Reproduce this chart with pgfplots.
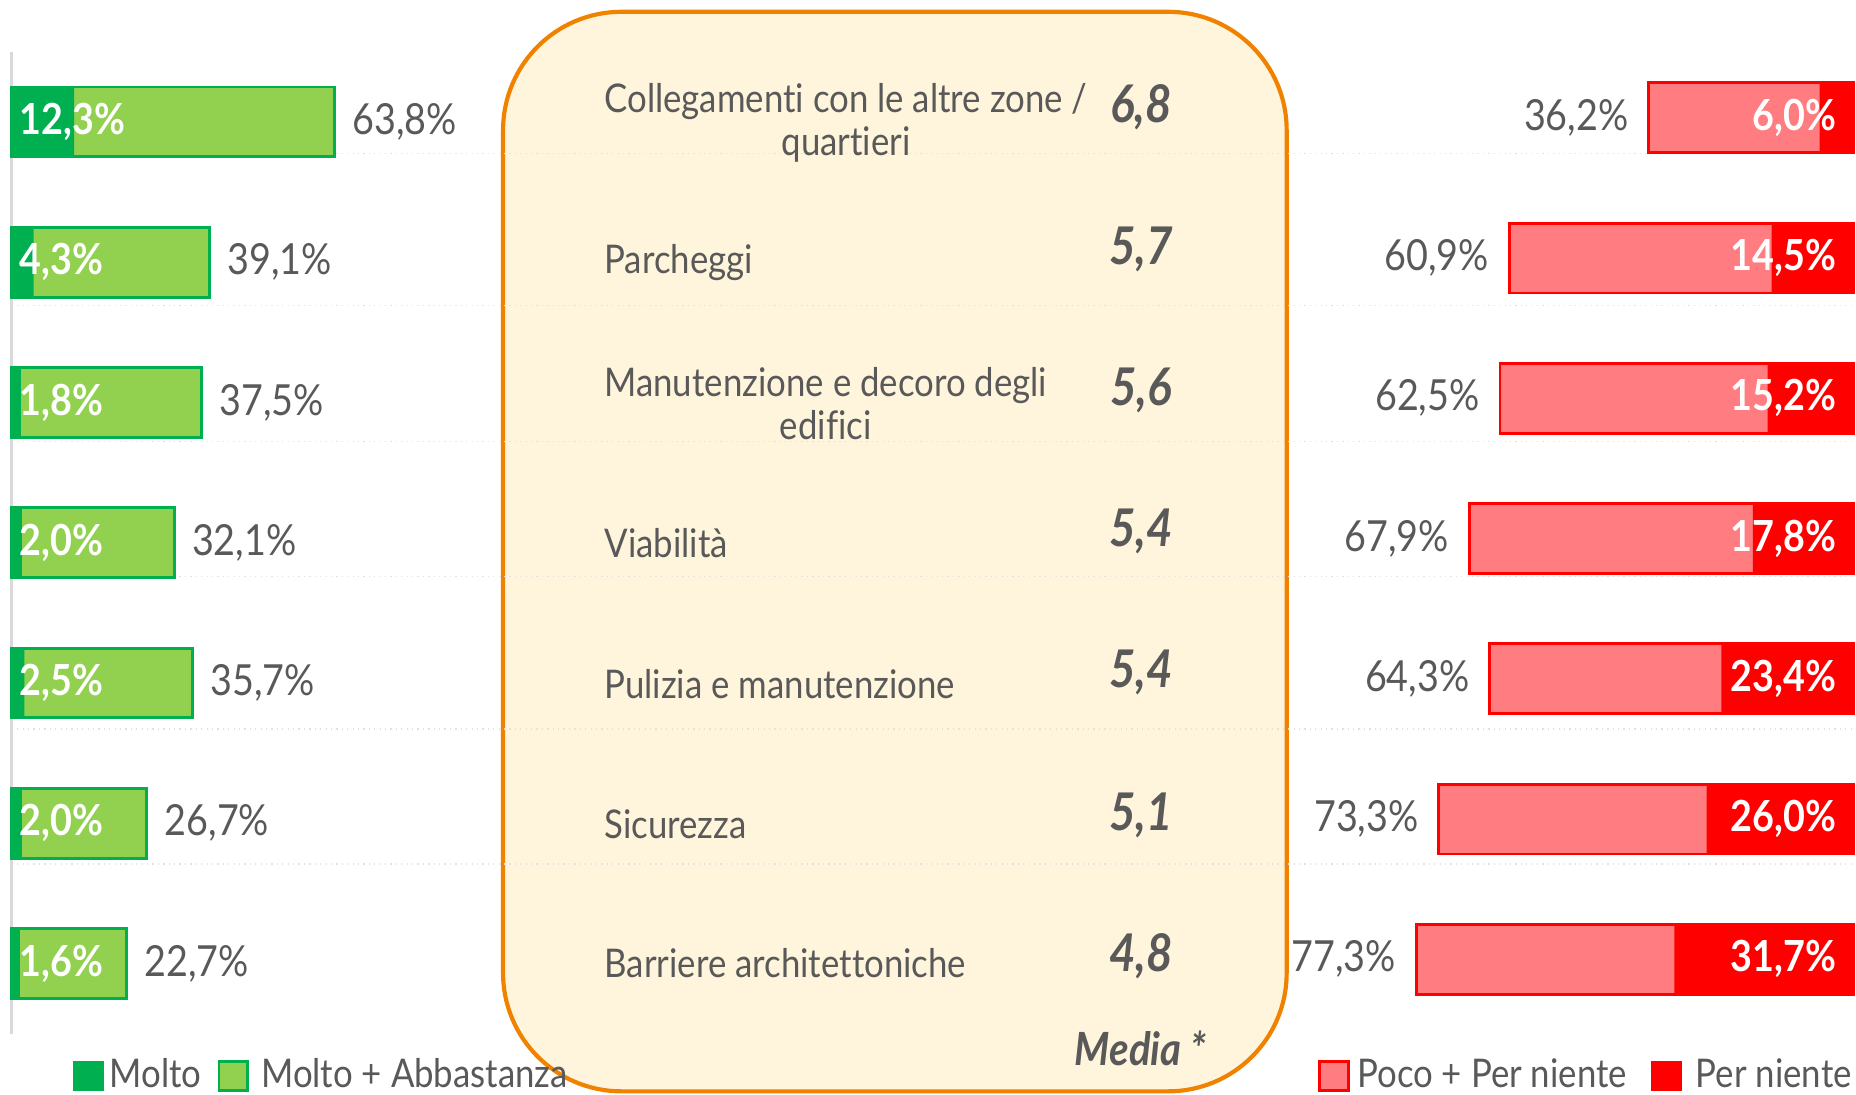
\documentclass[border=0pt]{standalone}
\usepackage{fontspec}
\setmainfont{Lato}[FakeStretch=0.88, Ligatures=NoCommon]
\usepackage{pgfplots}
\pgfplotsset{compat=1.18}
\usepackage{pgfplotstable}

\definecolor{dgreen}{HTML}{00B050}
\definecolor{lgreen}{HTML}{92D050}
\definecolor{lred}{HTML}{FF7C80}
\definecolor{fred}{HTML}{FF0000}
\definecolor{boxorange}{HTML}{F08200}
\definecolor{cream}{HTML}{FFF5DC}
\definecolor{tgray}{HTML}{595959}
\definecolor{gridgray}{HTML}{D9D9D9}

\newcommand{\fval}{\fontsize{10.3}{12}\selectfont}
\newcommand{\fcat}{\fontsize{9.5}{10.3}\selectfont}
\newcommand{\fmed}{\fontsize{12.5}{14}\selectfont\bfseries\itshape}
\newcommand{\fmedia}{\fontsize{11}{13}\selectfont\bfseries\itshape}
\newcommand{\fleg}{\fontsize{9.5}{11}\selectfont}
\newcommand{\pct}[1]{\pgfmathprintnumber[fixed,fixed zerofill,precision=1,use comma,assume math mode=true]{#1}\%}

% soddisfatti: Molto + Abbastanza (tot), Molto (part)
\pgfplotstableread{
row tot part
1 63.8 12.3
2 39.1 4.3
3 37.5 1.8
4 32.1 2.0
5 35.7 2.5
6 26.7 2.0
7 22.7 1.6
}\soddisfatti

% insoddisfatti: Poco + Per niente (tot), Per niente (part)
\pgfplotstableread{
row tot part
1 36.2 6.0
2 60.9 14.5
3 62.5 15.2
4 67.9 17.8
5 64.3 23.4
6 73.3 26.0
7 77.3 31.7
}\insoddisfatti

\pgfplotsset{
  barre/.style={
    scale only axis, height=8.295cm,
    xmin=0, xmax=100, ymin=0.5, ymax=7.5, y dir=reverse,
    hide axis, clip=false, bar width=0.59cm,
  },
}

\begin{document}
\begin{tikzpicture}
\path[use as bounding box] (0,0) rectangle (15.68,9.25);

% riquadro centrale
\draw[boxorange, line width=1pt, fill=cream, rounded corners=1cm]
  (4.25,0.03) rectangle (10.87,9.15);

% linee di separazione
\foreach \gy in {130,258,373,487,616,730}
  \draw[gridgray!80, line width=0.3pt, densely dotted] (0.10,{(925-\gy)/100}) -- (15.68,{(925-\gy)/100});

% lato sinistro
\begin{axis}[barre, at={(0.10cm,0.5175cm)}, anchor=south west, width=4.27cm]
\draw[gridgray, line width=0.8pt] (axis cs:0,0.5) -- (axis cs:0,7.5);
\addplot[xbar, bar shift=0pt, fill=lgreen, draw=dgreen, line width=0.7pt,
  point meta=x, nodes near coords={\pct{\pgfplotspointmeta}},
  every node near coord/.append style={anchor=west, inner sep=0pt, xshift=0.14cm, text=tgray, font=\fval}]
  table[x=tot, y=row]{\soddisfatti};
\addplot[xbar, bar shift=0pt, fill=dgreen, draw=none]
  table[x=part, y=row]{\soddisfatti};
\addplot[draw=none, mark=none, point meta=\thisrow{part},
  nodes near coords={\pct{\pgfplotspointmeta}},
  every node near coord/.append style={anchor=west, inner sep=0pt, xshift=0.06cm, text=white, font=\fval\bfseries}]
  table[x expr=0, y=row]{\soddisfatti};
\end{axis}

% lato destro
\begin{axis}[barre, at={(10.88cm,0.5525cm)}, anchor=south west, width=4.78cm, x dir=reverse]
\addplot[xbar, bar shift=0pt, fill=lred, draw=fred, line width=0.7pt,
  point meta=x, nodes near coords={\pct{\pgfplotspointmeta}},
  every node near coord/.append style={anchor=east, inner sep=0pt, xshift=-0.16cm, text=tgray, font=\fval}]
  table[x=tot, y=row]{\insoddisfatti};
\addplot[xbar, bar shift=0pt, fill=fred, draw=none]
  table[x=part, y=row]{\insoddisfatti};
\addplot[draw=none, mark=none, point meta=\thisrow{part},
  nodes near coords={\pct{\pgfplotspointmeta}},
  every node near coord/.append style={anchor=east, inner sep=0pt, xshift=-0.14cm, text=white, font=\fval\bfseries}]
  table[x expr=0, y=row]{\insoddisfatti};
\end{axis}

% voci e medie
\begin{scope}[every node/.style={text=tgray, inner sep=0pt}]
\node[anchor=west, font=\fcat, align=center] at (5.10,{(925-104)/100}) {Collegamenti con le altre zone /\\quartieri};
\node[anchor=west, font=\fcat] at (5.10,{(925-222)/100}) {Parcheggi};
\node[anchor=west, font=\fcat, align=center] at (5.10,{(925-341)/100}) {Manutenzione e decoro degli\\edifici};
\node[anchor=west, font=\fcat] at (5.10,{(925-459)/100}) {Viabilità};
\node[anchor=west, font=\fcat] at (5.10,{(925-578)/100}) {Pulizia e manutenzione};
\node[anchor=west, font=\fcat] at (5.10,{(925-696)/100}) {Sicurezza};
\node[anchor=west, font=\fcat] at (5.10,{(925-814)/100}) {Barriere architettoniche};

\node[font=\fmed] at (9.64,{(925-91)/100}) {6,8};
\node[font=\fmed] at (9.64,{(925-211)/100}) {5,7};
\node[font=\fmed] at (9.64,{(925-330)/100}) {5,6};
\node[font=\fmed] at (9.64,{(925-449)/100}) {5,4};
\node[font=\fmed] at (9.64,{(925-568)/100}) {5,4};
\node[font=\fmed] at (9.64,{(925-689)/100}) {5,1};
\node[font=\fmed] at (9.64,{(925-808)/100}) {4,8};
\node[font=\fmedia, anchor=east] at (10.20,{(925-886)/100}) {Media *};

% legenda
\fill[dgreen] (0.62,0.03) rectangle (0.88,0.29);
\node[anchor=base west, font=\fleg] at (0.92,0.06) {Molto};
\draw[dgreen, line width=0.7pt, fill=lgreen] (1.85,0.04) rectangle (2.09,0.28);
\node[anchor=base west, font=\fleg] at (2.20,0.06) {Molto + Abbastanza};
\draw[fred, line width=0.7pt, fill=lred] (11.15,0.04) rectangle (11.39,0.28);
\node[anchor=base west, font=\fleg] at (11.46,0.06) {Poco + Per niente};
\fill[fred] (13.95,0.03) rectangle (14.21,0.29);
\node[anchor=base west, font=\fleg] at (14.32,0.06) {Per niente};
\end{scope}
\end{tikzpicture}
\end{document}
